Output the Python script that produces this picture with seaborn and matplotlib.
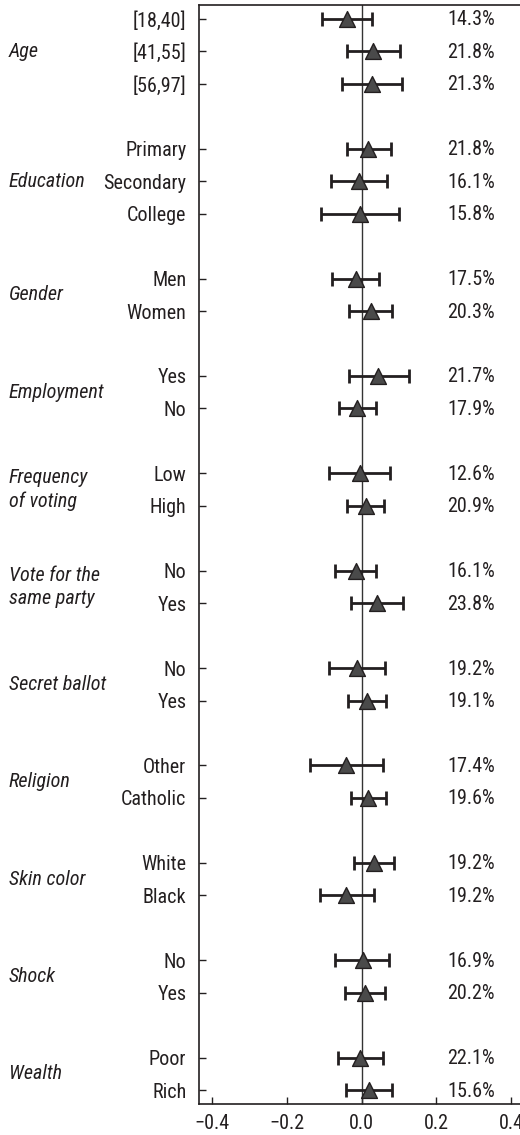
import matplotlib
matplotlib.use("Agg")
import matplotlib.pyplot as plt
import matplotlib.transforms as mtransforms
from matplotlib import font_manager
import seaborn as sns
import pandas as pd

# ---------------- data ----------------
groups = ["Age", "Education", "Gender", "Employment", "Frequency\nof voting",
          "Vote for the\nsame party", "Secret ballot", "Religion", "Skin color",
          "Shock", "Wealth"]
group_levels = [
    ["[18,40]", "[41,55]", "[56,97]"],
    ["Primary", "Secondary", "College"],
    ["Men", "Women"],
    ["Yes", "No"],
    ["Low", "High"],
    ["No", "Yes"],
    ["No", "Yes"],
    ["Other", "Catholic"],
    ["White", "Black"],
    ["No", "Yes"],
    ["Poor", "Rich"],
]
estimates = [-0.039, 0.031, 0.027,
             0.018, -0.007, -0.005,
             -0.016, 0.024,
             0.044, -0.012,
             -0.006, 0.010,
             -0.016, 0.041,
             -0.013, 0.014,
             -0.042, 0.018,
             0.034, -0.041,
             0.002, 0.009,
             -0.005, 0.020]
ci_low = [-0.107, -0.039, -0.054,
          -0.040, -0.082, -0.110,
          -0.080, -0.033,
          -0.035, -0.061,
          -0.088, -0.039,
          -0.071, -0.029,
          -0.088, -0.037,
          -0.140, -0.029,
          -0.020, -0.112,
          -0.071, -0.045,
          -0.065, -0.041]
ci_high = [0.028, 0.103, 0.109,
           0.078, 0.067, 0.100,
           0.046, 0.080,
           0.126, 0.039,
           0.076, 0.060,
           0.038, 0.111,
           0.062, 0.066,
           0.057, 0.065,
           0.086, 0.032,
           0.073, 0.061,
           0.056, 0.081]
shares = ["14.3%", "21.8%", "21.3%",
          "21.8%", "16.1%", "15.8%",
          "17.5%", "20.3%",
          "21.7%", "17.9%",
          "12.6%", "20.9%",
          "16.1%", "23.8%",
          "19.2%", "19.1%",
          "17.4%", "19.6%",
          "19.2%", "19.2%",
          "16.9%", "20.2%",
          "22.1%", "15.6%"]
x_ticks = [-0.4, -0.2, 0.0, 0.2, 0.4]
x_ticklabels = ["\u22120.4", "\u22120.2", "0.0", "0.2", "0.4"]

# ---------------- layout of rows ----------------
positions, labels, group_centers = [], [], []
pos = 0
for g, levels in zip(groups, group_levels):
    start = pos
    for lv in levels:
        positions.append(pos)
        labels.append(lv)
        pos += 1
    group_centers.append((start + pos - 1) / 2)
    pos += 1

df = pd.DataFrame({"pos": positions, "label": labels, "est": estimates,
                   "lo": ci_low, "hi": ci_high, "share": shares})

# ---------------- style ----------------
sns.set_theme(style="white")
styles = {}
for f in font_manager.fontManager.ttflist:
    styles.setdefault(f.name, set()).add(f.style)
candidates = ["Roboto Condensed", "Fira Sans Condensed", "Asap Condensed",
              "Encode Sans Condensed", "IBM Plex Sans Condensed",
              "PT Sans Narrow", "Archivo Narrow", "Liberation Sans Narrow"]
fam = "DejaVu Sans"
for c in candidates:
    if c in styles and "italic" in styles[c] and "normal" in styles[c]:
        fam = c
        break
plt.rcParams["font.family"] = [fam, "DejaVu Sans"]
plt.rcParams["font.weight"] = "normal"
ink = "#231f20"
FS = 14.5

fig = plt.figure(figsize=(5.2, 11.35), dpi=100)
W, H = 520, 1135
ax = fig.add_axes([199 / W, 31 / H, 331 / W, 1099 / H])

# reference line at zero
ax.axvline(0, color="#333333", lw=1.0, zorder=1)

# confidence intervals
ax.errorbar(df["est"], df["pos"],
            xerr=[df["est"] - df["lo"], df["hi"] - df["est"]],
            fmt="none", ecolor=ink, elinewidth=2.0, capsize=5, capthick=2.0,
            zorder=2)

# point estimates
sns.scatterplot(data=df, x="est", y="pos", marker="^", s=130,
                color="#4a4a4a", edgecolor=ink, linewidth=1.0, ax=ax,
                zorder=3, legend=False)

# axes limits
ax.set_xlim(-0.436, 0.4506)
ax.set_ylim(33.43, -0.43)

# ticks
ax.set_xticks(x_ticks)
ax.set_xticklabels(x_ticklabels)
ax.set_yticks(df["pos"])
ax.set_yticklabels(df["label"])
ax.tick_params(axis="both", direction="in", length=5, width=1.0, color=ink,
               labelcolor=ink, labelsize=FS)
ax.tick_params(axis="y", pad=9, left=True)
ax.tick_params(axis="x", pad=7, bottom=True)
ax.set_xlabel("")
ax.set_ylabel("")

for side in ["left", "bottom", "top"]:
    ax.spines[side].set_visible(True)
    ax.spines[side].set_color(ink)
    ax.spines[side].set_linewidth(1.2)
ax.spines["right"].set_visible(False)

# share labels on the right
for p, s in zip(df["pos"], df["share"]):
    ax.text(0.228, p + 0.03, s, ha="left", va="center", fontsize=FS, color=ink)

# group labels
trans = mtransforms.blended_transform_factory(fig.transFigure, ax.transData)
for g, c in zip(groups, group_centers):
    ax.text(9 / W, c, g, transform=trans, ha="left", va="center",
            fontsize=FS, style="italic", color=ink, linespacing=1.3,
            clip_on=False)

fig.savefig("out.png", dpi=100)
